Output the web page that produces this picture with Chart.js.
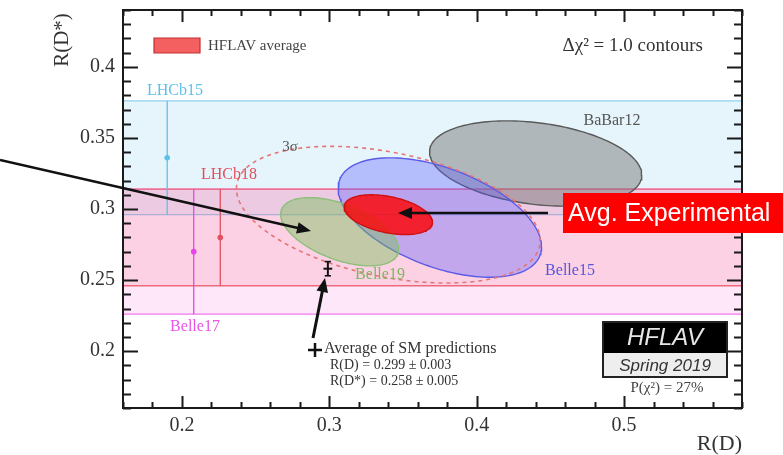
<!DOCTYPE html>
<html lang="en">
<head>
<meta charset="UTF-8">
<title>R(D) vs R(D*)</title>
<script src="https://cdn.jsdelivr.net/npm/chart.js"></script>
<style>
    html, body { margin: 0; padding: 0; background: #ffffff; }
    #wrap { width: 783px; height: 455px; }
</style>
</head>
<body>
<div id="wrap"><canvas id="rdChart" width="783" height="455"></canvas></div>
<script>
    // axis ranges and tick labels
    const xRange = [0.16, 0.58];
    const yRange = [0.16, 0.44];
    const xTickLabels = [0.2, 0.3, 0.4, 0.5];
    const yTickLabels = [0.2, 0.25, 0.3, 0.35, 0.4];

    // R(D*)-only measurements, shown as bands
    const bandNames = ['LHCb15', 'Belle17', 'LHCb18'];
    const bandRDs = [0.336, 0.270, 0.280];
    const bandErr = [0.040, 0.044, 0.034];
    const bandMarkerRD = [0.190, 0.208, 0.226];

    // 2D measurements, delta chi2 = 1 contours
    const ellNames = ['BaBar12', 'Belle15', 'Belle19', 'HFLAV average'];
    const ellRD = [0.440, 0.375, 0.307, 0.340];
    const ellRDErr = [0.072, 0.069, 0.040, 0.030];
    const ellRDs = [0.332, 0.294, 0.284, 0.296];
    const ellRDsErr = [0.030, 0.042, 0.024, 0.014];
    const ellCorr = [-0.27, -0.49, -0.51, -0.38];

    // 3 sigma contour of the average (2 dof)
    const threeSigmaChi2 = 11.8;

    // SM prediction
    const smRD = [0.299, 0.003];
    const smRDs = [0.258, 0.005];

    const bandStyle = {
        'LHCb15': { line: '#8fd0ee', fill: 'rgba(190,228,245,0.38)', bar: '#5ec0ea' },
        'Belle17': { line: '#f27af0', fill: 'rgba(245,110,220,0.17)', bar: '#e845e8' },
        'LHCb18': { line: '#ee6a7a', fill: 'rgba(255,80,110,0.15)', bar: '#e25060' }
    };
    const ellStyle = {
        'BaBar12': { line: '#5a5a5a', fill: 'rgba(115,115,115,0.48)' },
        'Belle15': { line: '#5b5be6', fill: 'rgba(90,90,255,0.35)' },
        'Belle19': { line: '#8cc07a', fill: 'rgba(120,190,90,0.45)' },
        'HFLAV average': { line: '#d01010', fill: 'rgba(255,0,0,0.8)' }
    };

    function contour(mx, sx, my, sy, r, k) {
        const pts = [];
        const n = 160;
        for (let i = 0; i <= n; i++) {
            const t = i / n * 2 * Math.PI;
            pts.push({
                x: mx + k * sx * Math.cos(t),
                y: my + k * sy * (r * Math.cos(t) + Math.sqrt(1 - r * r) * Math.sin(t))
            });
        }
        return pts;
    }

    const datasets = [];

    // bands
    bandNames.forEach((name, i) => {
        const lo = bandRDs[i] - bandErr[i], hi = bandRDs[i] + bandErr[i];
        datasets.push({
            data: [{x: xRange[0], y: hi}, {x: xRange[1], y: hi}, {x: xRange[1], y: lo}, {x: xRange[0], y: lo}, {x: xRange[0], y: hi}],
            showLine: true, pointRadius: 0, borderWidth: 1.3,
            borderColor: bandStyle[name].line, backgroundColor: bandStyle[name].fill, fill: 'shape'
        });
    });
    // band error bars and central points
    bandNames.forEach((name, i) => {
        datasets.push({
            data: [{x: bandMarkerRD[i], y: bandRDs[i] - bandErr[i]}, {x: bandMarkerRD[i], y: bandRDs[i] + bandErr[i]}],
            showLine: true, pointRadius: 0, borderWidth: 1.3, borderColor: bandStyle[name].bar, fill: false
        });
        datasets.push({
            data: [{x: bandMarkerRD[i], y: bandRDs[i]}],
            pointRadius: 2.8, pointBorderWidth: 0, pointBackgroundColor: bandStyle[name].bar
        });
    });
    // ellipses
    ellNames.forEach((name, i) => {
        datasets.push({
            data: contour(ellRD[i], ellRDErr[i], ellRDs[i], ellRDsErr[i], ellCorr[i], 1),
            showLine: true, pointRadius: 0, borderWidth: 1.4, tension: 0,
            borderColor: ellStyle[name].line, backgroundColor: ellStyle[name].fill, fill: 'shape'
        });
    });
    // 3 sigma dashed contour of the average
    const avg = ellNames.indexOf('HFLAV average');
    datasets.push({
        data: contour(ellRD[avg], ellRDErr[avg], ellRDs[avg], ellRDsErr[avg], ellCorr[avg], Math.sqrt(threeSigmaChi2)),
        showLine: true, pointRadius: 0, borderWidth: 1.6, borderDash: [4, 4],
        borderColor: '#e47575', fill: false
    });
    // SM cross
    datasets.push({
        data: [{x: smRD[0] - smRD[1], y: smRDs[0]}, {x: smRD[0] + smRD[1], y: smRDs[0]}],
        showLine: true, pointRadius: 0, borderWidth: 2, borderColor: '#111', fill: false
    });
    datasets.push({
        data: [{x: smRD[0], y: smRDs[0] - smRDs[1]}, {x: smRD[0], y: smRDs[0] + smRDs[1]}],
        showLine: true, pointRadius: 0, borderWidth: 2, borderColor: '#111', fill: false
    });
    [smRDs[0] - smRDs[1], smRDs[0] + smRDs[1]].forEach(v => {
        datasets.push({
            data: [{x: smRD[0] - smRD[1] * 0.7, y: v}, {x: smRD[0] + smRD[1] * 0.7, y: v}],
            showLine: true, pointRadius: 0, borderWidth: 1.6, borderColor: '#111', fill: false
        });
    });
    // first pushed = drawn first
    datasets.forEach((d, i) => { d.order = datasets.length - i; });

    const serif = '"Liberation Serif", "Times New Roman", serif';
    const sans = '"Liberation Sans", Arial, sans-serif';

    function arrow(ctx, x1, y1, x2, y2, w, head) {
        const a = Math.atan2(y2 - y1, x2 - x1);
        const c = Math.cos(a), s = Math.sin(a);
        ctx.save();
        ctx.strokeStyle = '#111';
        ctx.fillStyle = '#111';
        ctx.lineWidth = w;
        ctx.beginPath();
        ctx.moveTo(x1, y1);
        ctx.lineTo(x2 - head * 0.8 * c, y2 - head * 0.8 * s);
        ctx.stroke();
        ctx.beginPath();
        ctx.moveTo(x2, y2);
        ctx.lineTo(x2 - head * c + head * 0.42 * s, y2 - head * s - head * 0.42 * c);
        ctx.lineTo(x2 - head * c - head * 0.42 * s, y2 - head * s + head * 0.42 * c);
        ctx.closePath();
        ctx.fill();
        ctx.restore();
    }

    function text(ctx, str, x, y, font, color, align) {
        ctx.font = font;
        ctx.fillStyle = color;
        ctx.textAlign = align || 'center';
        ctx.textBaseline = 'middle';
        ctx.fillText(str, x, y);
    }

    function isMajor(list, v) {
        return list.some(t => Math.abs(t - v) < 1e-6);
    }

    const decorations = {
        id: 'decorations',
        afterDraw(chart) {
            const ctx = chart.ctx;
            const a = chart.chartArea;
            const xs = chart.scales.x, ys = chart.scales.y;
            ctx.save();

            // inward ticks on all four sides
            ctx.strokeStyle = '#1a1a1a';
            ctx.lineWidth = 2;
            for (let i = 0; i <= 21; i++) {
                const v = xRange[0] + i * 0.02;
                const len = isMajor(xTickLabels, v) ? 12 : 6;
                const px = Math.round(xs.getPixelForValue(v)) + 0.5;
                ctx.beginPath();
                ctx.moveTo(px, a.bottom); ctx.lineTo(px, a.bottom - len);
                ctx.moveTo(px, a.top); ctx.lineTo(px, a.top + len);
                ctx.stroke();
            }
            for (let i = 0; i <= 28; i++) {
                const v = yRange[0] + i * 0.01;
                const len = isMajor(yTickLabels, v) ? 15 : 8;
                const py = Math.round(ys.getPixelForValue(v)) + 0.5;
                ctx.beginPath();
                ctx.moveTo(a.left, py); ctx.lineTo(a.left + len, py);
                ctx.moveTo(a.right, py); ctx.lineTo(a.right - len, py);
                ctx.stroke();
            }

            // frame
            ctx.lineWidth = 2;
            ctx.strokeRect(a.left, a.top, a.right - a.left, a.bottom - a.top);

            // axis titles
            text(ctx, 'R(D)', a.right, 444, '22px ' + serif, '#333', 'right');
            ctx.save();
            ctx.translate(62, 40);
            ctx.rotate(-Math.PI / 2);
            text(ctx, 'R(D*)', 0, 0, '21px ' + serif, '#333', 'center');
            ctx.restore();

            // experiment labels
            text(ctx, 'LHCb15', 175, 91, '16px ' + serif, '#5ec0ea');
            text(ctx, 'LHCb18', 229, 175, '16px ' + serif, '#e25060');
            text(ctx, 'Belle17', 195, 327, '16px ' + serif, '#e855e8');
            text(ctx, '3σ', 290, 147, '15px ' + serif, '#555');
            text(ctx, 'BaBar12', 612, 121, '16px ' + serif, '#555');
            text(ctx, 'Belle19', 380, 275, '16px ' + serif, '#7cb85c');
            text(ctx, 'Belle15', 570, 271, '16px ' + serif, '#5555dd');

            // legend
            ctx.fillStyle = '#f46060';
            ctx.strokeStyle = '#c03030';
            ctx.lineWidth = 1.2;
            ctx.beginPath();
            ctx.rect(154, 38, 46, 15);
            ctx.fill(); ctx.stroke();
            text(ctx, 'HFLAV average', 208, 46, '15px ' + serif, '#444', 'left');
            text(ctx, 'Δχ² = 1.0 contours', 703, 46, '19px ' + serif, '#333', 'right');

            // HFLAV logo
            ctx.fillStyle = '#000';
            ctx.fillRect(603, 322, 124, 31);
            ctx.fillStyle = '#eeeeee';
            ctx.fillRect(603, 353, 124, 24);
            ctx.strokeStyle = '#222';
            ctx.lineWidth = 2;
            ctx.strokeRect(603, 322, 124, 55);
            text(ctx, 'HFLAV', 665, 338, 'italic 24px ' + sans, '#e6e6e6');
            text(ctx, 'Spring 2019', 665, 366, 'italic 17px ' + sans, '#333');
            text(ctx, 'P(χ²) = 27%', 667, 388, '15px ' + serif, '#444');

            // SM legend
            ctx.strokeStyle = '#111';
            ctx.lineWidth = 2.5;
            ctx.beginPath();
            ctx.moveTo(308, 350); ctx.lineTo(322, 350);
            ctx.moveTo(315, 343); ctx.lineTo(315, 357);
            ctx.stroke();
            text(ctx, 'Average of SM predictions', 324, 349, '16px ' + serif, '#333', 'left');
            text(ctx, 'R(D) = 0.299 ± 0.003', 330, 365, '14px ' + serif, '#333', 'left');
            text(ctx, 'R(D*) = 0.258 ± 0.005', 330, 381, '14px ' + serif, '#333', 'left');

            // annotation arrows
            arrow(ctx, 0, 160, 311, 231, 2.6, 14);
            arrow(ctx, 548, 213, 398, 213, 2.6, 14);
            arrow(ctx, 313, 338, 325, 278, 3, 14);

            // Avg. Experimental box
            ctx.fillStyle = '#ff0000';
            ctx.fillRect(563, 193, 220, 40);
            text(ctx, 'Avg. Experimental', 568, 214, '25px ' + sans, '#ffffff', 'left');

            ctx.restore();
        }
    };

    const chart = new Chart(document.getElementById('rdChart'), {
        type: 'scatter',
        data: { datasets: datasets },
        options: {
            responsive: false,
            animation: false,
            layout: { padding: { left: 0, top: 10, right: 41, bottom: 0 } },
            plugins: {
                legend: { display: false },
                tooltip: { enabled: false },
                filler: { drawTime: 'beforeDatasetDraw' }
            },
            elements: { line: { tension: 0 } },
            scales: {
                x: {
                    type: 'linear', min: xRange[0], max: xRange[1],
                    grid: { display: false, drawTicks: false },
                    border: { display: false },
                    afterBuildTicks: s => { s.ticks = xTickLabels.map(v => ({ value: v })); },
                    afterFit: s => { s.height = 47; s.paddingLeft = 0; s.paddingRight = 0; },
                    ticks: { font: { family: serif, size: 20 }, color: '#333', padding: 6, maxRotation: 0,
                             callback: v => String(v) }
                },
                y: {
                    type: 'linear', min: yRange[0], max: yRange[1],
                    grid: { display: false, drawTicks: false },
                    border: { display: false },
                    afterBuildTicks: s => { s.ticks = yTickLabels.map(v => ({ value: v })); },
                    afterFit: s => { s.width = 123; s.paddingTop = 0; s.paddingBottom = 0; },
                    ticks: { font: { family: serif, size: 20 }, color: '#333', padding: 8,
                             callback: v => String(v) }
                }
            }
        },
        plugins: [decorations]
    });
</script>
</body>
</html>
